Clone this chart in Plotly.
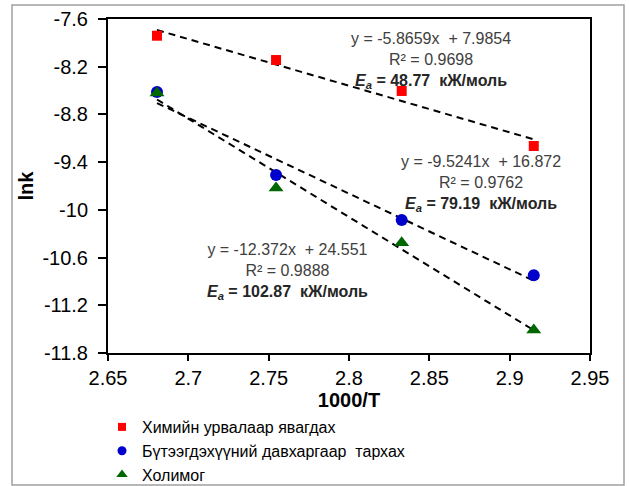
import plotly.graph_objects as go
import numpy as np

# data
x_vals = [2.6805, 2.7546, 2.8328, 2.915]
chem_y = [-7.81, -8.116, -8.505, -9.197]
layer_y = [-8.518, -9.562, -10.128, -10.823]
mix_y = [-8.53, -9.725, -10.413, -11.51]

series_names = ["Химийн урвалаар явагдах", "Бүтээгдэхүүний давхаргаар  тархах", "Холимог"]
slopes = [-5.8659, -9.5241, -12.372]
intercepts = [7.9854, 16.872, 24.551]
r2 = ["0.9698", "0.9762", "0.9888"]
ea = ["48.77", "79.19", "102.87"]
eq_texts = ["y = -5.8659x  + 7.9854", "y = -9.5241x  + 16.872", "y = -12.372x  + 24.551"]

x_ticks = [2.65, 2.7, 2.75, 2.8, 2.85, 2.9, 2.95]
y_ticks = [-7.6, -8.2, -8.8, -9.4, -10, -10.6, -11.2, -11.8]

FONT = "Liberation Sans, Arial, sans-serif"
W, H = 629, 486
L, R, T, B = 108, 39, 19, 133
PW, PH = W - L - R, H - T - B

def px_x(px):
    return (px - L) / PW

def px_y(py):
    return (H - B - py) / PH

fig = go.Figure()

# trend lines
xl = np.array([min(x_vals), max(x_vals)])
for m, b in zip(slopes, intercepts):
    fig.add_trace(go.Scatter(x=xl, y=m * xl + b, mode="lines", showlegend=False,
                             line=dict(color="black", width=2, dash="7px,5px"), hoverinfo="skip"))

markers = [dict(symbol="square", color="#ff0000", size=10),
           dict(symbol="circle", color="#0000cc", size=12),
           dict(symbol="triangle-up", color="#006600", size=13)]
legend_sizes = [8, 9, 10]
for name, ys, mk, ls in zip(series_names, [chem_y, layer_y, mix_y], markers, legend_sizes):
    fig.add_trace(go.Scatter(x=x_vals, y=ys, mode="markers", name=name, marker=mk, showlegend=False))
    fig.add_trace(go.Scatter(x=[None], y=[None], mode="markers", name=name,
                             marker=dict(symbol=mk["symbol"], color=mk["color"], size=ls)))

# regression annotations (center x px, middle y px)
ann_px = [(431, 60), (481, 184), (287, 271)]
for (cx, cy), eq, r, e in zip(ann_px, eq_texts, r2, ea):
    txt = (f"<span style='color:#404040'>{eq}<br>R² = {r}</span><br>"
           f"<b><i>E<sub>a</sub></i> = {e}  кЖ/моль</b>")
    fig.add_annotation(x=px_x(cx), y=px_y(cy), xref="paper", yref="paper", showarrow=False,
                       text=txt, xanchor="center", yanchor="middle", align="center",
                       font=dict(family=FONT, size=16, color="#262626"))

# outer frame
fig.add_shape(type="rect", xref="paper", yref="paper", x0=px_x(12), x1=px_x(624), y0=px_y(485), y1=px_y(5),
              line=dict(color="#a0a0a0", width=1.5))

fig.update_layout(
    width=W, height=H,
    margin=dict(l=L, r=R, t=T, b=B, autoexpand=False),
    paper_bgcolor="white", plot_bgcolor="white",
    font=dict(family=FONT, size=20, color="black"),
    showlegend=True,
    legend=dict(x=px_x(102), y=px_y(410), xanchor="left", yanchor="top",
                font=dict(family=FONT, size=16, color="black"),
                tracegroupgap=0, itemwidth=30, bgcolor="rgba(0,0,0,0)"),
    xaxis=dict(range=[2.65, 2.95], tickvals=x_ticks, ticktext=[f"{v:g}" for v in x_ticks],
               showgrid=False, zeroline=False, showline=True, linecolor="black", linewidth=2,
               mirror=True, ticks="outside", ticklen=6, tickwidth=2, tickcolor="black",
               title=dict(text="<b>1000/T</b>", font=dict(size=20), standoff=0)),
    yaxis=dict(range=[-11.8, -7.6], tickvals=y_ticks, ticktext=[f"{v:g}" for v in y_ticks],
               showgrid=False, zeroline=False, showline=True, linecolor="black", linewidth=2,
               mirror=True, ticks="outside", ticklen=8, tickwidth=2, tickcolor="black",
               ticklabelstandoff=6,
               title=dict(text="<b>lnk</b>", font=dict(size=20), standoff=3)),
)

fig.write_html("out.html")
